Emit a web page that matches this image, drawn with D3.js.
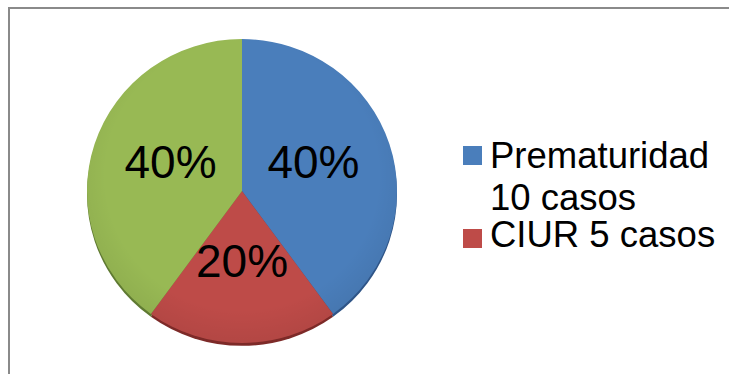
<!DOCTYPE html>
<html>
<head>
<meta charset="utf-8">
<script src="https://cdn.jsdelivr.net/npm/d3@7/dist/d3.min.js"></script>
<style>
  html, body { margin: 0; padding: 0; background: #fff; }
  svg { display: block; }
  text { font-family: "Liberation Sans", Arial, sans-serif; fill: #000; }
</style>
</head>
<body>
<svg id="chart" width="729" height="374"></svg>
<script>
// Data
const categories = ["Prematuridad 10 casos", "CIUR 5 casos", "Otros 10 casos"];
const values = [10, 5, 10];
const legendLines = [["Prematuridad", "10 casos"], ["CIUR 5 casos"]]; // legend is truncated in the reference
const colors = ["#4a7ebb", "#be4b48", "#98b954"];
const shadeColors = ["#2f5587", "#7d2a28", "#5f7a32"];

const svg = d3.select("#chart");
const W = 729, H = 374;

// Chart area border (extends beyond the right/bottom of the window)
svg.append("rect")
  .attr("x", 9).attr("y", 8)
  .attr("width", W + 20).attr("height", H + 20)
  .attr("fill", "#fff")
  .attr("stroke", "#8a8a8a")
  .attr("stroke-width", 2);

const cx = 242, cy = 191, r = 155;
const total = d3.sum(values);

const pie = d3.pie().sort(null).value(d => d.v);
const arcs = pie(categories.map((c, i) => ({ c, v: values[i], i })));
const arc = d3.arc().innerRadius(0).outerRadius(r);

const g = svg.append("g")
  .attr("transform", `translate(${cx},${cy}) scale(1,0.98)`);

// 3D-like bottom edge shading
g.append("g").attr("transform", "translate(0,3)")
  .selectAll("path").data(arcs).join("path")
  .attr("d", arc)
  .attr("fill", d => shadeColors[d.data.i]);

g.append("g")
  .selectAll("path").data(arcs).join("path")
  .attr("d", arc)
  .attr("fill", d => colors[d.data.i]);

// subtle shading gradient
const defs = svg.append("defs");
const grad = defs.append("radialGradient").attr("id", "sh")
  .attr("cx", "50%").attr("cy", "45%").attr("r", "55%");
grad.append("stop").attr("offset", "80%").attr("stop-color", "#000").attr("stop-opacity", 0);
grad.append("stop").attr("offset", "100%").attr("stop-color", "#000").attr("stop-opacity", 0.06);
g.append("circle").attr("r", r).attr("fill", "url(#sh)");

// Percentage labels
const labelArc = d3.arc().innerRadius(r * 0.5).outerRadius(r * 0.5);
const fmt = d3.format(".0%");
svg.append("g")
  .attr("transform", `translate(${cx},${cy})`)
  .selectAll("text").data(arcs).join("text")
  .attr("x", d => labelArc.centroid(d)[0] * 0.97)
  .attr("y", d => labelArc.centroid(d)[1] * 0.98 + 10)
  .attr("text-anchor", "middle")
  .style("font-size", "46px")
  .text(d => fmt(d.data.v / total));

// Legend
const lg = svg.append("g").attr("transform", "translate(463,0)");
const entryTop = [146, 229];
const entryBase = [168, 247];
legendLines.forEach((lines, i) => {
  lg.append("rect")
    .attr("x", 0).attr("y", entryTop[i])
    .attr("width", 19).attr("height", 19)
    .attr("fill", colors[i]);
  lines.forEach((t, j) => {
    lg.append("text")
      .attr("x", 27).attr("y", entryBase[i] + j * 42)
      .style("font-size", "36.5px")
      .text(t);
  });
});
</script>
</body>
</html>
